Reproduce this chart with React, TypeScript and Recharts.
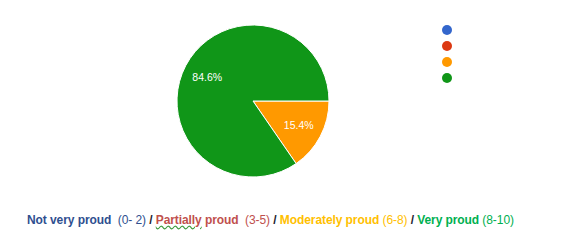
import React from 'react';
import { PieChart, Pie, Cell, Legend } from 'recharts';

const categories = ['Not very proud (0- 2)', 'Partially proud (3-5)', 'Moderately proud (6-8)', 'Very proud (8-10)'];
const values = [0, 0, 15.4, 84.6];
const colors = ['#3366cc', '#dc3912', '#ff9900', '#109618'];

const titleLabels = ['Not very proud', 'Partially proud', 'Moderately proud', 'Very proud'];
const titleRanges = ['(0- 2)', '(3-5)', '(6-8)', '(8-10)'];
const titleGaps = ['\u00a0 ', '\u00a0 ', ' ', ' '];
const titleColors = ['#2f4f8f', '#c0504d', '#ffc000', '#00b050'];

const data = categories.map((name, i) => ({ name, value: values[i] }));

const RAD = Math.PI / 180;

const renderLabel = (props: any) => {
  const { cx, cy, midAngle, outerRadius, value } = props;
  if (!value) return null;
  const r = outerRadius * 0.68;
  const x = cx + r * Math.cos(-midAngle * RAD);
  const y = cy + r * Math.sin(-midAngle * RAD);
  return (
    <text x={x} y={y} fill="#ffffff" fontSize={10.5} fontFamily="Liberation Sans, Arial, sans-serif" textAnchor="middle" dominantBaseline="central">
      {value.toFixed(1)}%
    </text>
  );
};

const LegendDots = () => (
  <div style={{ position: 'absolute', left: 442, top: 25 }}>
    {colors.map((c, i) => (
      <div key={i} style={{ width: 10, height: 10, borderRadius: 5, background: c, marginBottom: 6 }} />
    ))}
  </div>
);

export default function App() {
  return (
    <div style={{ position: 'absolute', left: 0, top: 0, width: 563, height: 245, background: '#fff' }}>
      <PieChart width={563} height={200} margin={{ top: 0, right: 0, bottom: 0, left: 0 }}>
        <Pie
          data={data}
          dataKey="value"
          nameKey="name"
          cx={253}
          cy={101}
          outerRadius={76}
          startAngle={0}
          endAngle={-360}
          stroke="#ffffff"
          strokeWidth={1}
          label={renderLabel}
          labelLine={false}
          isAnimationActive={false}
        >
          {data.map((d, i) => (
            <Cell key={i} fill={colors[i]} />
          ))}
        </Pie>
        <Legend
          content={LegendDots}
          wrapperStyle={{ position: 'absolute', left: 0, top: 0, width: 0, height: 0 }}
        />
      </PieChart>
      <div style={{ position: 'absolute', left: 27, top: 213, fontFamily: 'Liberation Sans, Arial, sans-serif', fontSize: 12, whiteSpace: 'pre', color: '#1f2a44', letterSpacing: -0.08 }}>
        {titleLabels.map((t, i) => {
          const words = t.split(' ');
          const first = words[0];
          const rest = words.slice(1).join(' ');
          return (
            <span key={i}>
              <span style={{ color: titleColors[i] }}>
                <span style={{ fontWeight: 'bold' }}>
                  <span style={i === 1 ? { textDecoration: 'underline wavy #3c9a3c' } : undefined}>{first}</span>
                  {rest ? ' ' + rest : ''}
                </span>
                {titleGaps[i]}
                {titleRanges[i]}
              </span>
              {i < titleLabels.length - 1 ? <span style={{ fontWeight: 'bold', color: '#1a1a2e' }}> / </span> : null}
            </span>
          );
        })}
      </div>
    </div>
  );
}
